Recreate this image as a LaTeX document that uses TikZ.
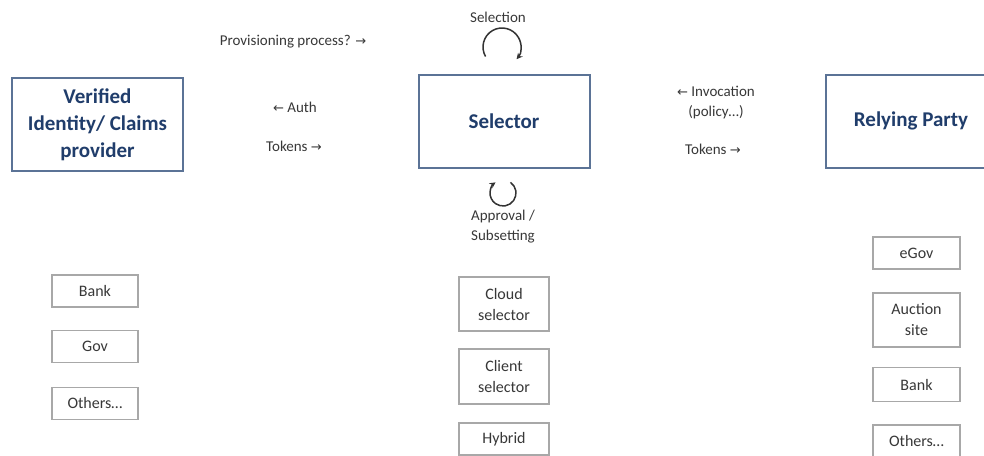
\documentclass[tikz,border=0pt]{standalone}
\usepackage{fontspec}
\setmainfont{Carlito}
\newfontfamily\arrowfont{DejaVu Sans}
\usetikzlibrary{arrows.meta}
\definecolor{boxB}{HTML}{5B7396}
\definecolor{txtB}{HTML}{203D6B}
\definecolor{boxG}{HTML}{A8A8A8}
\definecolor{txtG}{HTML}{383838}
\newcommand{\toR}{{\arrowfont\fontsize{13}{16}\selectfont →}}
\newcommand{\toL}{{\arrowfont\fontsize{13}{16}\selectfont ←}}
\tikzset{
  party/.style={draw=boxB, line width=2pt, text=txtB, align=center,
    font=\fontsize{21}{27}\selectfont\bfseries,
    minimum width=171pt, minimum height=93pt, inner sep=2pt},
  item/.style={draw=boxG, line width=1.4pt, text=txtG, align=center,
    font=\fontsize{16}{21}\selectfont,
    minimum height=32pt, inner sep=1pt},
  lab/.style={text=txtG, align=center, font=\fontsize{15}{20}\selectfont, inner sep=1pt},
  selfloop/.style={-{Stealth[length=6pt,width=6pt]}, line width=1.5pt, black!80},
}
\begin{document}
\begin{tikzpicture}[x=1pt,y=1pt]
\fill[white] (0,0) rectangle (984,-455);
\useasboundingbox (0,0) rectangle (984,-455);

% ---- parties ---------------------------------------------------------------
\node[party] (idp) at (97.5,-124.5) {Verified\\Identity/ Claims\\provider};
\node[party] (sel) at (504,-121) {Selector};
\node[party] (rp)  at (911,-121) {Relying Party};
% ---- exchange labels -------------------------------------------------------
\node[lab] (prov)  at (293,-42)  {Provisioning process? \toR};
\node[lab] (auth)  at (295,-107) {\toL{} Auth};
\node[lab] (tokL)  at (294,-146) {Tokens \toR};
\node[lab] (invoc) at (716,-103) {\toL{} Invocation\\(policy\ldots)};
\node[lab] (tokR)  at (713,-149) {Tokens \toR};
% ---- selector loops --------------------------------------------------------
\node[lab] (selection) at (498,-17) {Selection};
\node[lab] (appr) at (503,-227) {Approval /\\Subsetting};
\coordinate (selT) at (502,-47);
\coordinate (selB) at (503,-193);
\draw[selfloop] (selT) ++(210:19pt) arc[start angle=210, end angle=-40, radius=19pt];
\draw[selfloop] (selB) ++(55:13pt) arc[start angle=55, end angle=-235, radius=13pt];
% ---- providers -------------------------------------------------------------
\node[item, minimum width=86pt] (bankL)   at (95,-291)   {Bank};
\node[item, minimum width=86pt] (gov)     at (95,-346.5) {Gov};
\node[item, minimum width=86pt] (othersL) at (95,-403.5) {Others\ldots};
% ---- selector kinds --------------------------------------------------------
\node[item, minimum width=90pt, minimum height=54pt] (cloud)  at (504,-304)   {Cloud\\selector};
\node[item, minimum width=90pt, minimum height=55pt] (client) at (504,-376.5) {Client\\selector};
\node[item, minimum width=90pt] (hybrid) at (504,-439) {Hybrid};
% ---- relying parties -------------------------------------------------------
\node[item, minimum width=87pt] (egov)    at (916.5,-253)   {eGov};
\node[item, minimum width=87pt, minimum height=54pt] (auction) at (916.5,-320) {Auction\\site};
\node[item, minimum width=87pt, minimum height=34pt] (bankR)   at (916.5,-384.5) {Bank};
\node[item, minimum width=87pt] (othersR) at (916.5,-441) {Others\ldots};

\end{tikzpicture}
\end{document}
